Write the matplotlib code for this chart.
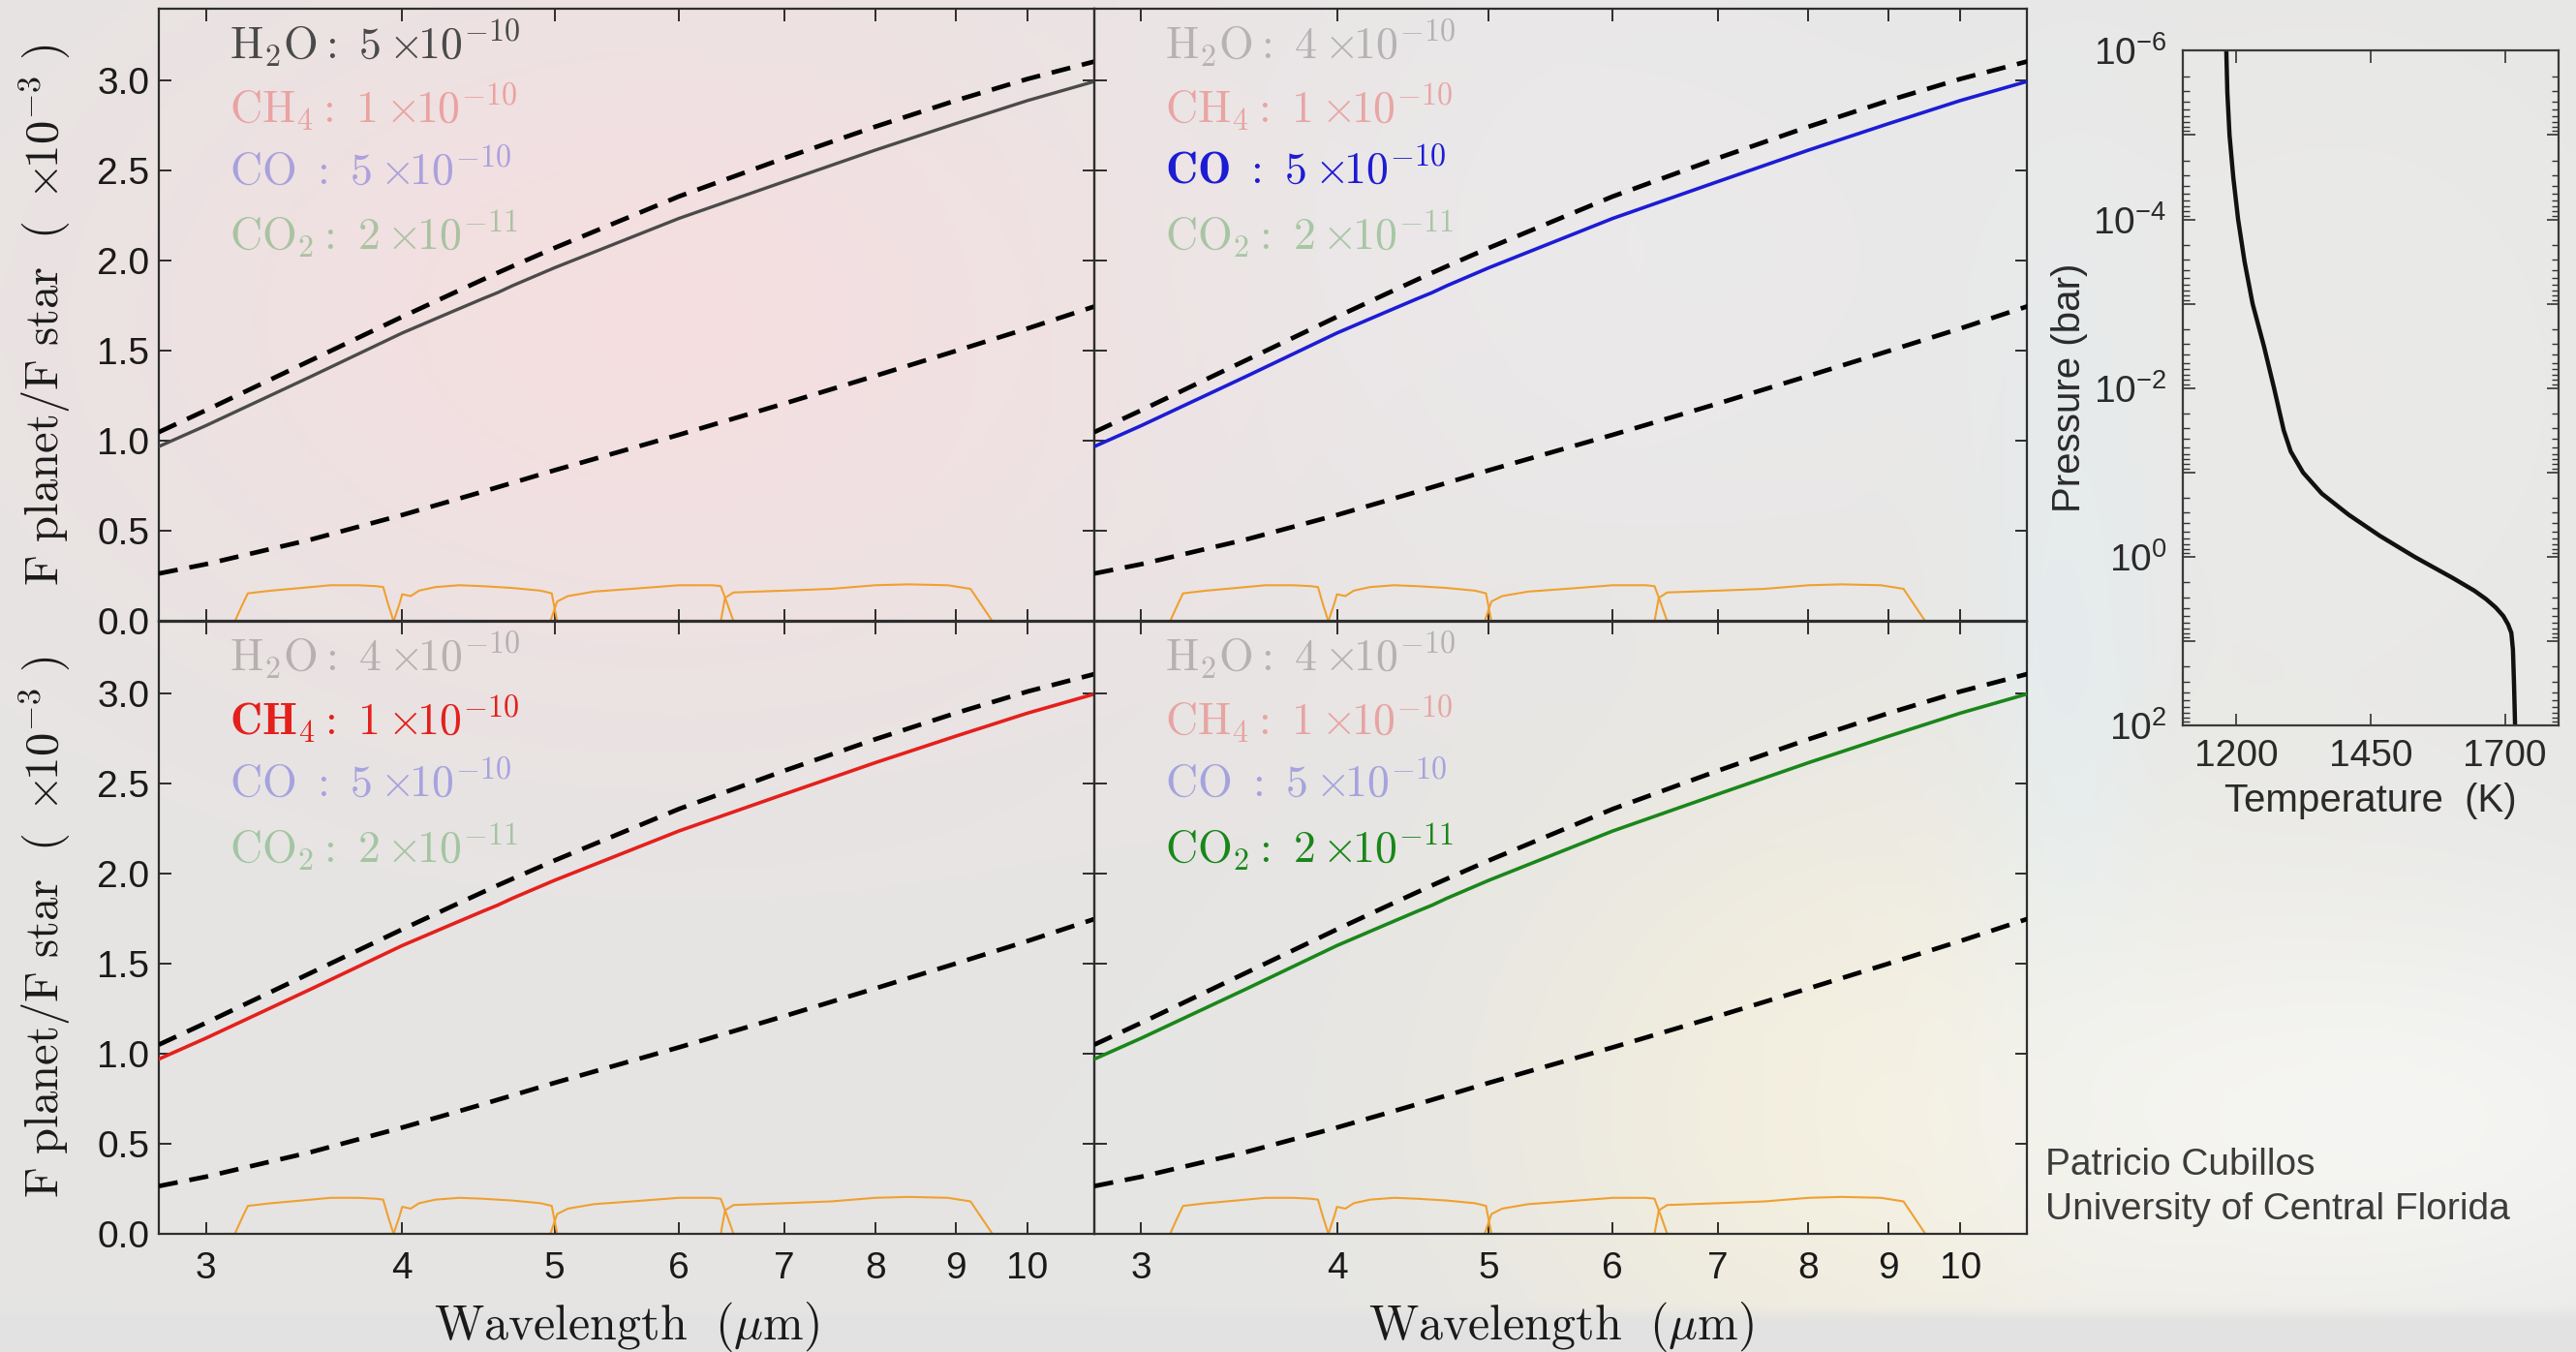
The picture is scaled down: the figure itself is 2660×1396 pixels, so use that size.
import numpy as np
import matplotlib
matplotlib.use("Agg")
import matplotlib.pyplot as plt
from matplotlib.ticker import FixedLocator, FixedFormatter, LogLocator, NullFormatter, NullLocator, FuncFormatter

plt.rcParams['font.family'] = ['Liberation Sans', 'DejaVu Sans']
plt.rcParams['mathtext.fontset'] = 'custom'
plt.rcParams['mathtext.rm'] = 'Liberation Sans'
plt.rcParams['mathtext.it'] = 'Liberation Sans:italic'
plt.rcParams['mathtext.bf'] = 'Liberation Sans:bold'

# ---------------- data ----------------
# emission spectra (planet/star flux ratio, x1e-3) vs wavelength (um)
wavelength = [2.8, 3.0, 3.5, 4.0, 4.3, 4.5, 4.6, 4.7, 5.0, 6.0, 7.0, 8.0, 9.0, 10.0, 11.1]
model_flux = [0.97, 1.086, 1.359, 1.600, 1.717, 1.790, 1.824, 1.862, 1.962, 2.236, 2.440,
              2.615, 2.762, 2.890, 3.003]
hot_blackbody = [1.05, 1.171, 1.449, 1.690, 1.817, 1.896, 1.934, 1.970, 2.072, 2.358, 2.570,
                 2.745, 2.890, 3.010, 3.113]
cool_blackbody = [0.265, 0.317, 0.454, 0.590, 0.669, 0.719, 0.744, 0.768, 0.838, 1.035, 1.208,
                  1.362, 1.500, 1.625, 1.755]

# Spitzer/IRAC band transmission curves (scaled)
irac1_wl = [3.08, 3.13, 3.16, 3.19, 3.30, 3.45, 3.60, 3.75, 3.85, 3.89, 3.92, 3.95, 4.00]
irac1_tr = [0.0, 0.0, 0.08, 0.155, 0.17, 0.185, 0.20, 0.20, 0.195, 0.19, 0.09, 0.0, 0.0]
irac2_wl = [3.90, 3.95, 3.985, 4.00, 4.05, 4.10, 4.20, 4.35, 4.50, 4.70, 4.90, 4.98, 5.02, 5.10]
irac2_tr = [0.0, 0.0, 0.10, 0.15, 0.14, 0.17, 0.19, 0.20, 0.195, 0.185, 0.17, 0.155, 0.0, 0.0]
irac3_wl = [4.85, 4.97, 5.02, 5.10, 5.30, 5.60, 6.00, 6.30, 6.38, 6.44, 6.50, 6.70]
irac3_tr = [0.0, 0.0, 0.11, 0.14, 0.165, 0.18, 0.20, 0.20, 0.195, 0.10, 0.0, 0.0]
irac4_wl = [6.30, 6.38, 6.42, 6.50, 7.00, 7.50, 8.00, 8.40, 8.90, 9.20, 9.50, 10.30]
irac4_tr = [0.0, 0.0, 0.13, 0.16, 0.17, 0.18, 0.20, 0.205, 0.20, 0.18, 0.0, 0.0]

# species abundances shown in each panel
species = ['H2O', 'CH4', 'CO', 'CO2']
species_tex = [r'H_2O', r'CH_4', r'CO', r'CO_2']
species_colors = ['#4a4a4a', '#e4201c', '#1c1cd4', '#1a861a']
h2o_abundance = [5, 4, 4, 4]          # top-left, top-right, bottom-left, bottom-right
ch4_abundance = [1, 1, 1, 1]
co_abundance = [5, 5, 5, 5]
co2_abundance = [2, 2, 2, 2]
abundance_exponents = [-10, -10, -10, -11]
panel_species = ['H2O', 'CO', 'CH4', 'CO2']   # highlighted species per panel

# temperature-pressure profile
tp_pressure = [1e-6, 10 ** -5.5, 1e-5, 10 ** -4.5, 1e-4, 10 ** -3.5, 1e-3, 10 ** -2.5, 1e-2,
               10 ** -1.75, 10 ** -1.5, 10 ** -1.25, 0.1, 10 ** -0.75, 10 ** -0.5, 10 ** -0.25,
               1.0, 10 ** 0.25, 10 ** 0.4, 10 ** 0.5, 10 ** 0.6, 10 ** 0.7, 10 ** 0.8, 10 ** 0.9,
               10 ** 1.1, 10 ** 1.5, 100.0]
tp_temperature = [1181, 1183, 1187, 1194, 1203, 1215, 1230, 1251, 1270, 1279, 1288, 1301,
                  1324, 1359, 1409, 1467, 1532, 1603, 1643, 1665, 1683, 1697, 1706, 1712,
                  1715, 1717, 1719]

flux_ticks = [0.0, 0.5, 1.0, 1.5, 2.0, 2.5, 3.0]
wl_ticks = [3, 4, 5, 6, 7, 8, 9, 10]
temp_ticks = [1200, 1450, 1700]

# ---------------- figure ----------------
W, H = 2660, 1396
fig = plt.figure(figsize=(W / 100, H / 100), dpi=100)

# soft slide background
ny, nx = 140, 266
yy, xx = np.mgrid[0:ny, 0:nx]
X = (xx + 0.5) * W / nx
Y = (yy + 0.5) * H / ny
img = np.ones((ny, nx, 3)) * np.array([229, 229, 228]) / 255.0


def blob(cx, cy, sx, sy, rgb, s):
    w = s * np.exp(-((X - cx) / sx) ** 2 - ((Y - cy) / sy) ** 2)
    c = np.array(rgb) / 255.0
    for k in range(3):
        img[..., k] = img[..., k] * (1 - w) + c[k] * w


blob(700, 330, 650, 420, (246, 222, 224), 0.9)
blob(1700, 250, 500, 400, (238, 236, 238), 0.6)
blob(1950, 1150, 400, 350, (249, 241, 214), 0.7)
blob(2140, 700, 90, 450, (224, 238, 244), 0.6)
blob(2450, 1150, 500, 250, (247, 247, 245), 0.9)
blob(2450, 400, 400, 500, (237, 237, 235), 0.6)
img[Y > 1352] = np.array([226, 226, 226]) / 255.0

bg = fig.add_axes([0, 0, 1, 1], zorder=-10)
bg.imshow(img, extent=[0, 1, 0, 1], aspect='auto', interpolation='bicubic', origin='upper')
bg.axis('off')


def frac_box(x0, y0, x1, y1):
    return [x0 / W, 1 - y1 / H, (x1 - x0) / W, (y1 - y0) / H]


spine_col = '#2e2e2e'
tick_col = '#1e1e1e'
panel_boxes = [frac_box(164, 9, 1130, 641.5), frac_box(1130, 9, 2093, 641.5),
               frac_box(164, 641.5, 1130, 1274), frac_box(1130, 641.5, 2093, 1274)]

for i, box in enumerate(panel_boxes):
    ax = fig.add_axes(box)
    ax.set_facecolor('none')
    ax.set_xscale('log')
    ax.set_xlim(2.8, 11.03)
    ax.set_ylim(0, 3.4)

    # filters
    for fw, ft in [(irac1_wl, irac1_tr), (irac2_wl, irac2_tr),
                   (irac3_wl, irac3_tr), (irac4_wl, irac4_tr)]:
        ax.plot(fw, ft, color='#f0a030', lw=1.5, zorder=2)

    ax.plot(wavelength, hot_blackbody, color='k', lw=3.4, ls=(0, (4.2, 2.6)), zorder=3)
    ax.plot(wavelength, cool_blackbody, color='k', lw=3.4, ls=(0, (4.2, 2.6)), zorder=3)
    hl = panel_species[i]
    ax.plot(wavelength, model_flux, color=species_colors[species.index(hl)],
            lw=2.4 if hl == 'H2O' else 2.6, zorder=4)

    # abundance annotations
    values = [h2o_abundance[i], ch4_abundance[i], co_abundance[i], co2_abundance[i]]
    for j, sp in enumerate(species):
        sep = r'\ :\ ' if sp == 'CO' else r':\ '
        body = r'%s%s%d\times\!\!10^{%d}' % (species_tex[j], sep, values[j], abundance_exponents[j])
        active = (sp == hl)
        if active and sp in ('CH4', 'CO'):
            s = r'$\mathbf{%s}$' % body
        else:
            s = r'$\mathrm{%s}$' % body
        ax.text(0.076, 0.943 - j * 0.1042, s, transform=ax.transAxes,
                fontsize=33, color=species_colors[j], alpha=1.0 if active else 0.32,
                ha='left', va='center', math_fontfamily='cm', zorder=5)

    ax.xaxis.set_major_locator(FixedLocator(wl_ticks))
    ax.xaxis.set_minor_locator(NullLocator())
    ax.xaxis.set_minor_formatter(NullFormatter())
    ax.yaxis.set_major_locator(FixedLocator(flux_ticks))
    if i >= 2:
        ax.xaxis.set_major_formatter(FixedFormatter([str(t) for t in wl_ticks]))
    else:
        ax.xaxis.set_major_formatter(NullFormatter())
    if i % 2 == 0:
        ax.yaxis.set_major_formatter(FixedFormatter(['%.1f' % t for t in flux_ticks]))
    else:
        ax.yaxis.set_major_formatter(NullFormatter())
    ax.tick_params(axis='both', which='major', direction='in', length=9, width=1.3,
                   top=True, right=True, color=tick_col, labelsize=28,
                   labelcolor='#1a1a1a')
    ax.tick_params(axis='x', pad=13)
    ax.tick_params(axis='y', pad=7)
    for sp in ax.spines.values():
        sp.set_color(spine_col)
        sp.set_linewidth(1.6)

    if i % 2 == 0:
        yc = 1 - (box[1] + box[3] / 2)
        fig.text(46 / W, 1 - yc, r'$\mathrm{F\ planet/F\ star}\ \ (\ \times\!\!10^{-3}\ )$',
                 rotation=90, ha='center', va='center', fontsize=35,
                 color='#1a1a1a', math_fontfamily='cm')
    if i >= 2:
        ax.set_xlabel(r'$\mathrm{Wavelength}\ \ (\mu\mathrm{m})$', fontsize=36,
                      color='#1a1a1a', math_fontfamily='cm', labelpad=10)

# temperature-pressure profile
tp = fig.add_axes(frac_box(2254, 52.3, 2642, 749.3))
tp.set_facecolor('none')
tp.plot(tp_temperature, tp_pressure, color='#111111', lw=3.2, solid_joinstyle='round')
tp.set_yscale('log')
tp.set_ylim(1e2, 1e-6)
tp.set_xlim(1100, 1800)
tp.xaxis.set_major_locator(FixedLocator(temp_ticks))
tp.xaxis.set_major_formatter(FixedFormatter([str(t) for t in temp_ticks]))
tp.yaxis.set_major_locator(LogLocator(base=10, numticks=20))
tp.yaxis.set_minor_locator(LogLocator(base=10, subs=np.arange(2, 10), numticks=20))
tp.yaxis.set_minor_formatter(NullFormatter())
tp.yaxis.set_major_formatter(
    FuncFormatter(lambda v, p: (r'10$^{%d}$' % round(np.log10(v)))
                  if round(np.log10(v)) % 2 == 0 else ''))
tp.tick_params(axis='both', which='major', direction='in', length=9, width=1.2,
               top=True, right=True, color='#333333', labelsize=28, labelcolor='#2a2a2a')
tp.tick_params(axis='both', which='minor', direction='in', length=5, width=1.0,
               top=True, right=True, color='#333333')
tp.tick_params(axis='y', pad=12)
tp.tick_params(axis='x', pad=10)
for sp in tp.spines.values():
    sp.set_color('#3a3a3a')
    sp.set_linewidth(1.6)
tp.set_xlabel('Temperature  (K)', fontsize=29, color='#2a2a2a', labelpad=6)
tp.set_ylabel('Pressure (bar)', fontsize=29, color='#2a2a2a', labelpad=4)

fig.text(2112 / W, 1 - 1203 / H, 'Patricio Cubillos', fontsize=28, color='#3c3c3c',
         ha='left', va='center')
fig.text(2112 / W, 1 - 1249 / H, 'University of Central Florida', fontsize=28,
         color='#3c3c3c', ha='left', va='center')

fig.savefig('out.png', dpi=100)
